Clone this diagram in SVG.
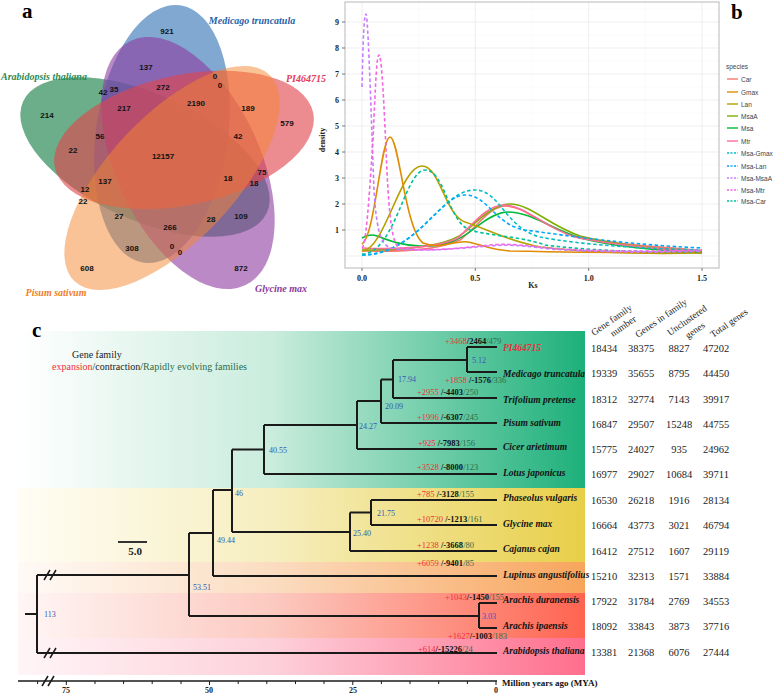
<svg xmlns="http://www.w3.org/2000/svg" width="775" height="694" viewBox="0 0 775 694">
<style>
.vn{font-family:"Liberation Sans",Arial,sans-serif;font-weight:bold;font-size:8px;fill:#111;text-anchor:middle}
.sp{font-family:"Liberation Serif","Times New Roman",serif;font-weight:bold;font-style:italic;font-size:10px}
.pl{font-family:"Liberation Serif","Times New Roman",serif;font-weight:bold;font-size:21px;fill:#000}
.ax{font-family:"Liberation Serif","Times New Roman",serif;font-weight:bold;font-size:8px;fill:#222}
.lg{font-family:"Liberation Sans",Arial,sans-serif;font-size:6.5px;fill:#444}
.grid{stroke:#ebebeb;stroke-width:0.8}
.gridm{stroke:#f4f4f4;stroke-width:0.5}
.cv{fill:none;stroke-width:1.6}
.ds{stroke-dasharray:3.5,2.5}
.br{stroke:#1a1a1a;stroke-width:2;fill:none}
.nl{font-family:"Liberation Serif","Times New Roman",serif;font-size:8px;fill:#3559b0}
.ch{font-family:"Liberation Serif","Times New Roman",serif;font-size:8.5px}
.r{fill:#f0303a}.k{fill:#111;font-weight:bold}.g{fill:#2e6e4a}
.tn{font-family:"Liberation Serif","Times New Roman",serif;font-weight:bold;font-style:italic;font-size:9.5px;fill:#111}
.tb{font-family:"Liberation Serif","Times New Roman",serif;font-size:10.5px;fill:#222;text-anchor:middle}
.th{font-family:"Liberation Serif","Times New Roman",serif;font-size:9.5px;fill:#222}
</style>
<defs>
<linearGradient id="gG" gradientUnits="userSpaceOnUse" x1="18" y1="0" x2="585" y2="0"><stop offset="0" stop-color="#ffffff"/><stop offset="0.45" stop-color="#c9ecdd"/><stop offset="1" stop-color="#1db07a"/></linearGradient>
<linearGradient id="gY" gradientUnits="userSpaceOnUse" x1="18" y1="0" x2="585" y2="0"><stop offset="0" stop-color="#fffdf5"/><stop offset="0.45" stop-color="#f6eebf"/><stop offset="1" stop-color="#e8cf48"/></linearGradient>
<linearGradient id="gO" gradientUnits="userSpaceOnUse" x1="18" y1="0" x2="585" y2="0"><stop offset="0" stop-color="#fffaf6"/><stop offset="0.45" stop-color="#fbdcc0"/><stop offset="1" stop-color="#f8a55c"/></linearGradient>
<linearGradient id="gR" gradientUnits="userSpaceOnUse" x1="18" y1="0" x2="585" y2="0"><stop offset="0" stop-color="#fff6f5"/><stop offset="0.45" stop-color="#fcc9c0"/><stop offset="1" stop-color="#ff6450"/></linearGradient>
<linearGradient id="gP" gradientUnits="userSpaceOnUse" x1="18" y1="0" x2="585" y2="0"><stop offset="0" stop-color="#fff5f7"/><stop offset="0.45" stop-color="#fdd0da"/><stop offset="1" stop-color="#ff6e8d"/></linearGradient>
</defs>

<!-- Panel a: Venn -->
<g id="venn">
<text class="pl" x="22" y="18">a</text>
<g id="set-arabidopsis"><ellipse cx="145" cy="157" rx="134" ry="63" transform="rotate(24.5 145 157)" fill="#2e8b57" fill-opacity="0.7"/></g>
<g id="set-medicago"><ellipse cx="162" cy="134" rx="130" ry="66" transform="rotate(98 162 134)" fill="#3d7ab8" fill-opacity="0.65"/></g>
<g id="set-glycine"><ellipse cx="188" cy="163" rx="135" ry="72" transform="rotate(65 188 163)" fill="#8e3aa0" fill-opacity="0.6"/></g>
<g id="set-pi464715"><ellipse cx="184" cy="140" rx="132" ry="65" transform="rotate(-12 184 140)" fill="#e0434c" fill-opacity="0.62"/></g>
<g id="set-pisum"><ellipse cx="172" cy="178" rx="142" ry="63" transform="rotate(-46.7 172 178)" fill="#f5852f" fill-opacity="0.5"/></g>
<text class="sp" x="252" y="24" fill="#2a62a8" text-anchor="middle">Medicago truncatula</text>
<text class="sp" x="306" y="82" fill="#e0405a" text-anchor="middle">PI464715</text>
<text class="sp" x="44" y="80" fill="#2e8a56" text-anchor="middle">Arabidopsis thaliana</text>
<text class="sp" x="56" y="296" fill="#f07d2a" text-anchor="middle">Pisum sativum</text>
<text class="sp" x="281" y="292" fill="#8b3b9e" text-anchor="middle">Glycine max</text>
<g id="venn-counts">
<text class="vn" x="167" y="34">921</text>
<text class="vn" x="146" y="70">137</text>
<text class="vn" x="103" y="95">42</text>
<text class="vn" x="114" y="92">35</text>
<text class="vn" x="163" y="90">272</text>
<text class="vn" x="124" y="111">217</text>
<text class="vn" x="215" y="79">0</text>
<text class="vn" x="220" y="88">0</text>
<text class="vn" x="196" y="106">2190</text>
<text class="vn" x="248" y="111">189</text>
<text class="vn" x="287" y="126">579</text>
<text class="vn" x="238" y="139">42</text>
<text class="vn" x="47" y="118">214</text>
<text class="vn" x="100" y="139">56</text>
<text class="vn" x="73" y="153">22</text>
<text class="vn" x="163" y="159">12157</text>
<text class="vn" x="85" y="192">12</text>
<text class="vn" x="105" y="184">137</text>
<text class="vn" x="83" y="204">22</text>
<text class="vn" x="119" y="219">27</text>
<text class="vn" x="170" y="230">266</text>
<text class="vn" x="132" y="251">308</text>
<text class="vn" x="172" y="249">0</text>
<text class="vn" x="180" y="255">0</text>
<text class="vn" x="87" y="271">608</text>
<text class="vn" x="228" y="181">18</text>
<text class="vn" x="262" y="175">75</text>
<text class="vn" x="254" y="186">18</text>
<text class="vn" x="211" y="222">28</text>
<text class="vn" x="241" y="219">109</text>
<text class="vn" x="241" y="271">872</text>
</g>
</g>

<!-- Panel b: density -->
<g id="density">
<rect x="345" y="2" width="374" height="266" fill="#fff"/>
<g class="gridm">
<line x1="345" x2="719" y1="243" y2="243"/><line x1="345" x2="719" y1="217" y2="217"/><line x1="345" x2="719" y1="191" y2="191"/><line x1="345" x2="719" y1="165" y2="165"/><line x1="345" x2="719" y1="139" y2="139"/><line x1="345" x2="719" y1="113" y2="113"/><line x1="345" x2="719" y1="87" y2="87"/><line x1="345" x2="719" y1="61" y2="61"/><line x1="345" x2="719" y1="35" y2="35"/><line x1="345" x2="719" y1="9" y2="9"/>
<line x1="418.7" x2="418.7" y1="2" y2="268"/><line x1="532" x2="532" y1="2" y2="268"/><line x1="645.3" x2="645.3" y1="2" y2="268"/>
</g>
<g class="grid">
<line x1="345" x2="719" y1="256" y2="256"/><line x1="345" x2="719" y1="230" y2="230"/><line x1="345" x2="719" y1="204" y2="204"/><line x1="345" x2="719" y1="178" y2="178"/><line x1="345" x2="719" y1="152" y2="152"/><line x1="345" x2="719" y1="126" y2="126"/><line x1="345" x2="719" y1="100" y2="100"/><line x1="345" x2="719" y1="74" y2="74"/><line x1="345" x2="719" y1="48" y2="48"/><line x1="345" x2="719" y1="22" y2="22"/>
<line x1="362" x2="362" y1="2" y2="268"/><line x1="475.3" x2="475.3" y1="2" y2="268"/><line x1="588.7" x2="588.7" y1="2" y2="268"/><line x1="702" x2="702" y1="2" y2="268"/>
</g>
<rect x="345" y="2" width="374" height="266" fill="none" stroke="#b8b8b8" stroke-width="1"/>
<g stroke="#555" stroke-width="0.8">
<line x1="342" x2="345" y1="230" y2="230"/><line x1="342" x2="345" y1="204" y2="204"/><line x1="342" x2="345" y1="178" y2="178"/><line x1="342" x2="345" y1="152" y2="152"/><line x1="342" x2="345" y1="126" y2="126"/><line x1="342" x2="345" y1="100" y2="100"/><line x1="342" x2="345" y1="74" y2="74"/><line x1="342" x2="345" y1="48" y2="48"/><line x1="342" x2="345" y1="22" y2="22"/>
<line x1="362" x2="362" y1="268" y2="271"/><line x1="475.3" x2="475.3" y1="268" y2="271"/><line x1="588.7" x2="588.7" y1="268" y2="271"/><line x1="702" x2="702" y1="268" y2="271"/>
</g>
<g class="ax" text-anchor="end">
<text x="339" y="233">1</text><text x="339" y="207">2</text><text x="339" y="181">3</text><text x="339" y="155">4</text><text x="339" y="129">5</text><text x="339" y="103">6</text><text x="339" y="77">7</text><text x="339" y="51">8</text><text x="339" y="25">9</text>
</g>
<g class="ax" text-anchor="middle">
<text x="362" y="281">0.0</text><text x="475.3" y="281">0.5</text><text x="588.7" y="281">1.0</text><text x="702" y="281">1.5</text>
<text x="533" y="288">Ks</text>
<text transform="translate(325 140) rotate(-90)">density</text>
</g>
<g id="curves">
<path class="cv" stroke="#F8766D" d="M362,251 C420,252 440,248 460,240 C478,226 490,206 506,206 C525,206 545,228 575,236 C620,246 660,246 702,251"/>
<path class="cv" stroke="#7CAE00" d="M362,250 C420,250 450,244 465,232 C480,218 495,204 510,204 C530,204 550,226 580,236 C620,246 660,249 702,252"/>
<path class="cv" stroke="#00BA38" d="M362,238 C367,235 372,234 377,236 C390,241 400,245 420,246 C445,247 460,240 475,228 C488,218 498,212 508,212 C530,212 550,228 580,238 C620,248 660,250 702,253"/>
<path class="cv" stroke="#FF6C9C" d="M362,248 C400,250 440,247 458,238 C475,222 488,205 504,205 C524,205 545,228 575,237 C620,247 660,248 702,253"/>
<path class="cv" stroke="#B5A000" d="M362,251 C385,250 400,166 422,166 C440,166 445,215 465,222 C490,230 505,240 540,247 C600,254 660,254 702,253"/>
<path class="cv" stroke="#E08B00" d="M362,244 C375,236 381,137 390,137 C399,137 405,230 423,243 C440,250 455,240 468,242 C480,244 490,250 510,251 C560,252 650,253 702,252"/>
<path class="cv ds" stroke="#00BFC4" d="M362,255 C420,254 440,190 475,190 C500,190 505,228 540,237 C580,245 650,249 702,250"/>
<path class="cv ds" stroke="#00A9FF" d="M362,255 C415,255 440,195 465,195 C488,195 495,225 525,230 C570,236 630,245 702,248"/>
<path class="cv ds" stroke="#00C19A" d="M362,254 C395,254 405,170 425,170 C445,170 448,222 470,230 C495,237 520,236 545,245 C600,252 660,252 702,252"/>
<path class="cv ds" stroke="#C77CFF" d="M362,87 C363,40 364,14 366,14 C368,14 371,110 374,190 C377,240 383,247 395,249 C430,252 460,248 490,246 C510,244 525,246 550,249 C610,253 670,252 702,251"/>
<path class="cv ds" stroke="#F564E3" d="M362,248 C366,246 369,200 373,140 C376,70 377,55 379,55 C381,55 383,80 386,150 C389,220 392,245 400,248 C430,252 460,248 490,245 C510,243 530,246 560,249 C620,252 670,251 702,250"/>
</g>
<g id="legend">
<text class="lg" x="726" y="69" font-size="7.5">species</text>
<g stroke-width="1.4">
<line x1="727" x2="738" y1="79" y2="79" stroke="#F8766D"/>
<line x1="727" x2="738" y1="92" y2="92" stroke="#E08B00"/>
<line x1="727" x2="738" y1="104" y2="104" stroke="#B5A000"/>
<line x1="727" x2="738" y1="116" y2="116" stroke="#7CAE00"/>
<line x1="727" x2="738" y1="128" y2="128" stroke="#00BA38"/>
<line x1="727" x2="738" y1="141" y2="141" stroke="#FF6C9C"/>
<line x1="727" x2="738" y1="153" y2="153" stroke="#00BFC4" stroke-dasharray="2,1.5"/>
<line x1="727" x2="738" y1="166" y2="166" stroke="#00A9FF" stroke-dasharray="2,1.5"/>
<line x1="727" x2="738" y1="178" y2="178" stroke="#C77CFF" stroke-dasharray="2,1.5"/>
<line x1="727" x2="738" y1="190" y2="190" stroke="#F564E3" stroke-dasharray="2,1.5"/>
<line x1="727" x2="738" y1="201" y2="201" stroke="#00C19A" stroke-dasharray="2,1.5"/>
</g>
<text class="lg" x="741" y="81.5">Car</text>
<text class="lg" x="741" y="94.5">Gmax</text>
<text class="lg" x="741" y="106.5">Lan</text>
<text class="lg" x="741" y="118.5">MsaA</text>
<text class="lg" x="741" y="130.5">Msa</text>
<text class="lg" x="741" y="143.5">Mtr</text>
<text class="lg" x="741" y="155.5">Msa-Gmax</text>
<text class="lg" x="741" y="168.5">Msa-Lan</text>
<text class="lg" x="741" y="180.5">Msa-MsaA</text>
<text class="lg" x="741" y="192.5">Msa-Mtr</text>
<text class="lg" x="741" y="203.5">Msa-Car</text>
</g>
<text class="pl" x="731" y="19">b</text>
</g>

<!-- Panel c: tree -->
<g id="bands">
<rect x="18" y="331" width="567" height="157" fill="url(#gG)"/>
<rect x="18" y="488" width="567" height="74" fill="url(#gY)"/>
<rect x="18" y="562" width="567" height="31" fill="url(#gO)"/>
<rect x="18" y="593" width="567" height="45" fill="url(#gR)"/>
<rect x="18" y="638" width="567" height="37" fill="url(#gP)"/>
</g>
<text class="pl" x="32" y="337">c</text>
<text x="72" y="358" font-family="Liberation Serif, Times New Roman, serif" font-size="10px" fill="#222">Gene family</text>
<text x="52" y="370" font-family="Liberation Serif, Times New Roman, serif" font-size="10px"><tspan fill="#f0303a">expansion</tspan><tspan fill="#222">/contraction/</tspan><tspan fill="#2e6e4a">Rapidly evolving families</tspan></text>

<g id="connectors">
<path class="br" d="M467,347 V372 M467,347 H497 M467,372 H497"/>
<path class="br" d="M393,360 H467 M393,360 V398 M393,398 H497"/>
<path class="br" d="M381,379.5 H393 M381,379.5 V423 M381,423 H497"/>
<path class="br" d="M357,401 H381 M357,401 V449 M357,449 H497"/>
<path class="br" d="M264,425 H357 M264,425 V474 M264,474 H497"/>
<path class="br" d="M232,449.5 H264 M232,449.5 V532 M232,532 H350"/>
<path class="br" d="M371,500 H497 M371,500 V525 M371,525 H497 M350,512.5 H371 M350,512.5 V551 M350,551 H497"/>
<path class="br" d="M213,490 H232 M213,490 V576 M213,576 H497"/>
<path class="br" d="M189,533 H213 M189,533 V616 M189,616 H479"/>
<path class="br" d="M479,603 H497 M479,603 V628 M479,628 H497"/>
<path class="br" d="M37,575 H189 M37,575 V653 M37,653 H497 M25,614 H37"/>
<g stroke="#1a1a1a" stroke-width="1.5">
<line x1="44" y1="580" x2="50" y2="570"/><line x1="50" y1="580" x2="56" y2="570"/>
<line x1="44" y1="658" x2="50" y2="648"/><line x1="50" y1="658" x2="56" y2="648"/>
</g>
</g>

<g id="node-labels">
<text class="nl" x="472" y="363">5.12</text>
<text class="nl" x="398" y="382">17.94</text>
<text class="nl" x="385" y="409">20.09</text>
<text class="nl" x="359" y="429">24.27</text>
<text class="nl" x="269" y="453">40.55</text>
<text class="nl" x="235" y="496">46</text>
<text class="nl" x="217" y="543">49.44</text>
<text class="nl" x="193" y="590">53.51</text>
<text class="nl" x="44" y="617">113</text>
<text class="nl" x="377" y="516">21.75</text>
<text class="nl" x="353" y="536">25.40</text>
<text class="nl" x="482" y="619">3.03</text>
</g>

<g id="changes">
<text class="ch" x="445" y="344"><tspan class="r">+3468</tspan><tspan class="k">/2464</tspan><tspan class="g">/479</tspan></text>
<text class="ch" x="445" y="383"><tspan class="r">+1858 </tspan><tspan class="k">/-1576</tspan><tspan class="g">/336</tspan></text>
<text class="ch" x="417" y="395"><tspan class="r">+2955 </tspan><tspan class="k">/-4403</tspan><tspan class="g">/250</tspan></text>
<text class="ch" x="417" y="420"><tspan class="r">+1996 </tspan><tspan class="k">/-6307</tspan><tspan class="g">/245</tspan></text>
<text class="ch" x="418" y="446"><tspan class="r">+925 </tspan><tspan class="k">/-7983</tspan><tspan class="g">/156</tspan></text>
<text class="ch" x="417" y="470"><tspan class="r">+3528 </tspan><tspan class="k">/-8000</tspan><tspan class="g">/123</tspan></text>
<text class="ch" x="417" y="497"><tspan class="r">+785 </tspan><tspan class="k">/-3128</tspan><tspan class="g">/155</tspan></text>
<text class="ch" x="417" y="522"><tspan class="r">+10720 </tspan><tspan class="k">/-1213</tspan><tspan class="g">/161</tspan></text>
<text class="ch" x="417" y="548"><tspan class="r">+1238 </tspan><tspan class="k">/-3668</tspan><tspan class="g">/80</tspan></text>
<text class="ch" x="417" y="566"><tspan class="r">+6059 </tspan><tspan class="k">/-9401</tspan><tspan class="g">/85</tspan></text>
<text class="ch" x="445" y="600"><tspan class="r">+1043</tspan><tspan class="k">/-1450</tspan><tspan class="g">/155</tspan></text>
<text class="ch" x="448" y="639"><tspan class="r">+1627</tspan><tspan class="k">/-1003</tspan><tspan class="g">/183</tspan></text>
<text class="ch" x="418" y="652"><tspan class="r">+614</tspan><tspan class="k">/-15226</tspan><tspan class="g">/24</tspan></text>
</g>

<g id="scale-bar">
<line x1="118" y1="542" x2="147" y2="542" stroke="#333" stroke-width="2"/>
<text x="135" y="555" font-family="Liberation Serif, Times New Roman, serif" font-weight="bold" font-size="11px" fill="#222" text-anchor="middle">5.0</text>
</g>

<g id="time-axis">
<line x1="18" y1="681" x2="497" y2="681" stroke="#1a1a1a" stroke-width="1.5"/>
<g stroke="#1a1a1a" stroke-width="1">
<line x1="496" y1="681" x2="496" y2="685"/><line x1="467.4" y1="681" x2="467.4" y2="684"/><line x1="438.7" y1="681" x2="438.7" y2="684"/><line x1="410" y1="681" x2="410" y2="684"/><line x1="381.4" y1="681" x2="381.4" y2="684"/><line x1="352.8" y1="681" x2="352.8" y2="685"/><line x1="324" y1="681" x2="324" y2="684"/><line x1="295.5" y1="681" x2="295.5" y2="684"/><line x1="266.8" y1="681" x2="266.8" y2="684"/><line x1="238.2" y1="681" x2="238.2" y2="684"/><line x1="209.5" y1="681" x2="209.5" y2="685"/><line x1="181" y1="681" x2="181" y2="684"/><line x1="152.2" y1="681" x2="152.2" y2="684"/><line x1="123.6" y1="681" x2="123.6" y2="684"/><line x1="95" y1="681" x2="95" y2="684"/><line x1="66.3" y1="681" x2="66.3" y2="685"/><line x1="37.6" y1="681" x2="37.6" y2="684"/>
</g>
<g stroke="#1a1a1a" stroke-width="1.5"><line x1="42" y1="686" x2="48" y2="676"/><line x1="48" y1="686" x2="54" y2="676"/></g>
<g class="ax" text-anchor="middle"><text x="66" y="693">75</text><text x="209" y="693">50</text><text x="353" y="693">25</text><text x="496" y="693">0</text></g>
<text x="502" y="686" font-family="Liberation Serif, Times New Roman, serif" font-weight="bold" font-size="9px" fill="#111">Million years ago (MYA)</text>
</g>

<g id="species">
<text class="tn" x="503" y="351" style="fill:#e8303a">PI464715</text>
<text class="tn" x="503" y="377">Medicago truncatula</text>
<text class="tn" x="503" y="403">Trifolium pretense</text>
<text class="tn" x="503" y="426">Pisum sativum</text>
<text class="tn" x="503" y="450">Cicer arietimum</text>
<text class="tn" x="503" y="476">Lotus japonicus</text>
<text class="tn" x="503" y="501">Phaseolus vulgaris</text>
<text class="tn" x="503" y="527">Glycine max</text>
<text class="tn" x="503" y="552">Cajanus cajan</text>
<text class="tn" x="503" y="578">Lupinus angustifolius</text>
<text class="tn" x="503" y="603">Arachis duranensis</text>
<text class="tn" x="503" y="629">Arachis ipaensis</text>
<text class="tn" x="503" y="654">Arabidopsis thaliana</text>
</g>

<g id="table-header">
<text class="th" transform="translate(594 336) rotate(-35)">Gene family</text>
<text class="th" transform="translate(613 337) rotate(-35)">number</text>
<text class="th" transform="translate(638 338) rotate(-35)">Genes in family</text>
<text class="th" transform="translate(670 336) rotate(-35)">Unclustered</text>
<text class="th" transform="translate(688 339) rotate(-35)">genes</text>
<text class="th" transform="translate(713 338) rotate(-35)">Total genes</text>
</g>
<g id="table">
<text class="tb" y="352"><tspan x="604">18434</tspan><tspan x="641">38375</tspan><tspan x="679">8827</tspan><tspan x="716">47202</tspan></text>
<text class="tb" y="377"><tspan x="604">19339</tspan><tspan x="641">35655</tspan><tspan x="679">8795</tspan><tspan x="716">44450</tspan></text>
<text class="tb" y="403"><tspan x="604">18312</tspan><tspan x="641">32774</tspan><tspan x="679">7143</tspan><tspan x="716">39917</tspan></text>
<text class="tb" y="428"><tspan x="604">16847</tspan><tspan x="641">29507</tspan><tspan x="679">15248</tspan><tspan x="716">44755</tspan></text>
<text class="tb" y="453"><tspan x="604">15775</tspan><tspan x="641">24027</tspan><tspan x="679">935</tspan><tspan x="716">24962</tspan></text>
<text class="tb" y="478"><tspan x="604">16977</tspan><tspan x="641">29027</tspan><tspan x="679">10684</tspan><tspan x="716">39711</tspan></text>
<text class="tb" y="504"><tspan x="604">16530</tspan><tspan x="641">26218</tspan><tspan x="679">1916</tspan><tspan x="716">28134</tspan></text>
<text class="tb" y="529"><tspan x="604">16664</tspan><tspan x="641">43773</tspan><tspan x="679">3021</tspan><tspan x="716">46794</tspan></text>
<text class="tb" y="555"><tspan x="604">16412</tspan><tspan x="641">27512</tspan><tspan x="679">1607</tspan><tspan x="716">29119</tspan></text>
<text class="tb" y="580"><tspan x="604">15210</tspan><tspan x="641">32313</tspan><tspan x="679">1571</tspan><tspan x="716">33884</tspan></text>
<text class="tb" y="605"><tspan x="604">17922</tspan><tspan x="641">31784</tspan><tspan x="679">2769</tspan><tspan x="716">34553</tspan></text>
<text class="tb" y="630"><tspan x="604">18092</tspan><tspan x="641">33843</tspan><tspan x="679">3873</tspan><tspan x="716">37716</tspan></text>
<text class="tb" y="656"><tspan x="604">13381</tspan><tspan x="641">21368</tspan><tspan x="679">6076</tspan><tspan x="716">27444</tspan></text>
</g>
</svg>
